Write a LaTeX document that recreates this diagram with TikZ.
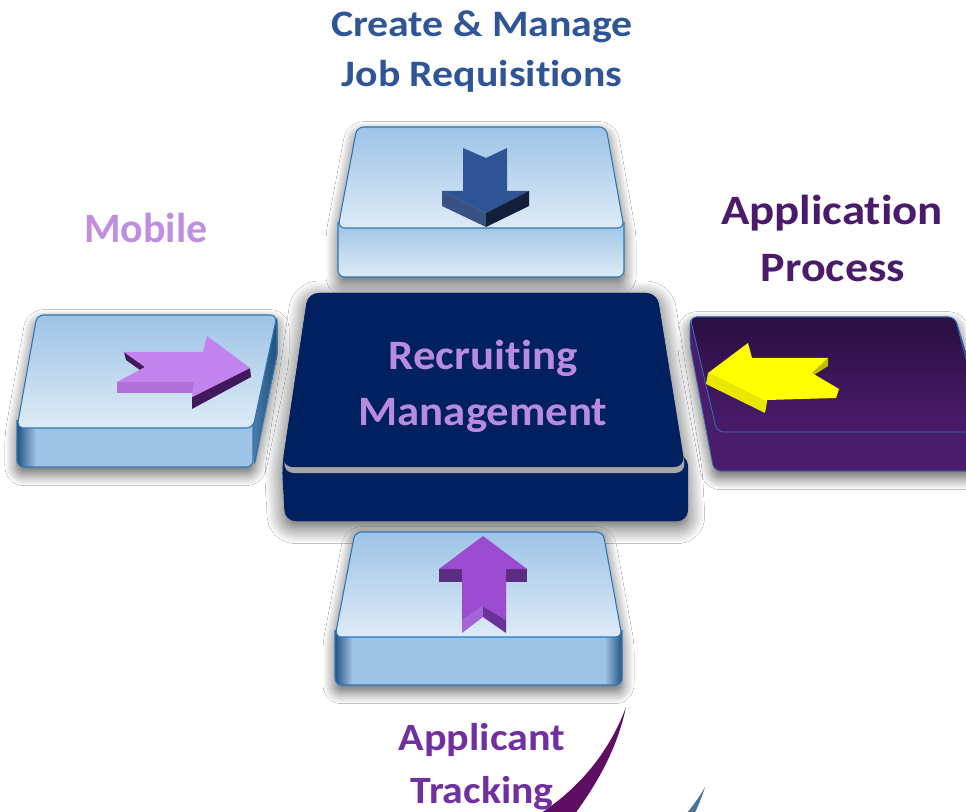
\documentclass[tikz,border=0pt]{standalone}
\usepackage{fontspec}
\setmainfont{Carlito}[Ligatures={NoCommon}]
\usetikzlibrary{shadows.blur}
\definecolor{titleblue}{HTML}{2F5597}
\definecolor{lightpurple}{HTML}{BF8EE1}
\definecolor{darkpurple}{HTML}{4A1B6B}
\definecolor{trackpurple}{HTML}{7030A0}
\definecolor{recruittext}{HTML}{B98BDF}
\definecolor{boxtop}{HTML}{9DC3E6}
\definecolor{boxlight}{HTML}{DEEBF7}
\definecolor{boxline}{HTML}{2E75B6}
\definecolor{boxedge}{HTML}{24527F}
\definecolor{sidedark}{HTML}{1F4E79}
\definecolor{sidemid}{HTML}{4A7CAA}
\definecolor{navy}{HTML}{002060}
\definecolor{rimgrey}{HTML}{A6A6A6}
\definecolor{appTop}{HTML}{2A0E42}
\definecolor{appBot}{HTML}{4A1C6C}
\definecolor{arrowblue}{HTML}{2F5597}
\definecolor{arrowblueL}{HTML}{3A5283}
\definecolor{arrowblueD}{HTML}{131E3A}
\definecolor{mobarrow}{HTML}{C383EE}
\definecolor{mobarrowL}{HTML}{B070D8}
\definecolor{mobarrowD}{HTML}{43195E}
\definecolor{yel}{HTML}{FFFF00}
\definecolor{yelL}{HTML}{E8E800}
\definecolor{yelD}{HTML}{BDBD00}
\definecolor{uparrow}{HTML}{9A4BD0}
\definecolor{uparrowD}{HTML}{5A2D82}
\definecolor{uparrowL}{HTML}{A565D6}
\definecolor{uparrowM}{HTML}{6B3399}
\definecolor{swooshpurple}{HTML}{5E0F63}
\definecolor{swooshblue}{HTML}{4A7396}
\pgfdeclarehorizontalshading{frontedges}{100bp}{color(0bp)=(boxedge); color(25bp)=(boxedge); color(28bp)=(boxtop); color(72bp)=(boxtop); color(75bp)=(boxedge); color(100bp)=(boxedge)}
\pgfdeclarehorizontalshading{frontleft}{100bp}{color(0bp)=(boxedge); color(25bp)=(boxedge); color(29bp)=(boxtop); color(100bp)=(boxtop)}
\tikzset{
  lbl/.style={font=\bfseries\fontsize{#1}{#1}\selectfont, anchor=base, inner sep=0pt},
  boxoutline/.style={draw=boxline, line width=0.8pt},
  halo/.style={blur shadow={shadow blur radius=#1, shadow xshift=0pt, shadow yshift=-5pt, shadow opacity=65, shadow blur steps=14}},
  topface/.style={boxoutline, top color=boxtop, bottom color=boxlight},
  rc/.style={rounded corners=5pt},
}
\begin{document}
\begin{tikzpicture}[x=0.75pt,y=-0.75pt,line join=round]
\useasboundingbox (0,0) rectangle (966,812);
\clip (0,0) rectangle (966,812);
\fill[white] (0,0) rectangle (966,812);

% ---------- Top box: Create & Manage ----------
\path[rc, fill=boxtop, halo=9pt] (357,127) -- (606,127) -- (624,228) -- (624,277) -- (338,277) -- (338,228) -- cycle;
\draw[rc, boxoutline, top color=boxtop, bottom color=boxlight] (338,222) -- (338,277) -- (624,277) -- (624,222);
\draw[rc, topface] (357,127) -- (606,127) -- (624,228) -- (338,228) -- cycle;
% down arrow
\fill[arrowblue] (463,148) -- (486,158) -- (507,148) -- (507,191) -- (529,191) -- (486,213) -- (442,191) -- (463,191) -- cycle;
\fill[arrowblueL] (442,191) -- (486,213) -- (486,227) -- (442,206) -- cycle;
\fill[arrowblueD] (529,191) -- (486,213) -- (486,227) -- (529,206) -- cycle;

% ---------- Left box: Mobile ----------
\path[rc, fill=boxtop, halo=9pt] (37,315) -- (277,315) -- (277,354) -- (253,467) -- (17,467) -- (17,428) -- cycle;
\fill[left color=sidemid, right color=sidedark] (277,318) -- (277,356) -- (254,464) -- (253,428) -- cycle;
\draw[rc, boxoutline, shading=frontleft] (17,420) -- (17,467) -- (253,467) -- (253,420);
\draw[boxoutline] (277,322) -- (277,354) -- (255,462);
\draw[rc, topface] (37,315) -- (277,315) -- (253,428) -- (17,428) -- cycle;
% mobile arrow
\fill[mobarrowD] (124,352) -- (126,360) -- (140,370) -- (145,367) -- cycle;
\fill[mobarrowL] (117,382) -- (117,393) -- (194,393) -- (194,382) -- cycle;
\fill[mobarrowD] (192,397) -- (192,409) -- (251,377) -- (250,368) -- cycle;
\fill[mobarrow] (124,352) -- (145,367) -- (117,382) -- (194,382) -- (192,397) -- (250,368) -- (207,336) -- (203,352) -- cycle;

% ---------- Right box: Application Process ----------
\path[rc, fill=appBot, halo=9pt] (690,317) -- (955,317) -- (990,432) -- (990,471) -- (714,471) -- (690,345) -- cycle;
\draw[rc, draw=boxline, line width=0.5pt, fill=appBot] (690,317) -- (955,317) -- (990,432) -- (990,471) -- (714,471) -- (690,345) -- cycle;
\draw[rc, draw=boxline, line width=0.6pt, top color=appTop, bottom color=appBot] (690,317) -- (955,317) -- (985,432) -- (717,432) -- cycle;
% yellow arrow
\fill[yelD] (828,358) -- (828,366) -- (814,375) -- (812,373) -- cycle;
\fill[yelL] (708,373) -- (767,402) -- (765,413) -- (706,384) -- cycle;
\fill[yel] (708,373) -- (748,343) -- (752,358) -- (828,358) -- (812,373) -- (839,389) -- (836,398) -- (767,400) -- (767,402) -- cycle;

% ---------- Center box: Recruiting Management ----------
\path[rounded corners=8pt, fill=navy, blur shadow={shadow blur radius=13pt, shadow xshift=0pt, shadow yshift=-4pt, shadow opacity=70, shadow blur steps=14}] (308,293) -- (657,293) -- (685,467) -- (688,521) -- (285,521) -- (282,467) -- cycle;
\fill[rounded corners=8pt, navy] (285,455) rectangle (688,521);
\fill[rounded corners=8pt, rimgrey] (308,299) -- (657,299) -- (686,473) -- (283,473) -- cycle;
\fill[rounded corners=8pt, navy] (308,293) -- (657,293) -- (685,467) -- (282,467) -- cycle;

% ---------- Bottom box: Applicant Tracking ----------
\path[rc, fill=boxtop, halo=9pt] (355,532) -- (603,532) -- (622,637) -- (622,685) -- (335,685) -- (335,637) -- cycle;
\draw[rc, boxoutline, shading=frontedges] (335,630) -- (335,685) -- (622,685) -- (622,630);
\draw[rc, topface] (355,532) -- (603,532) -- (622,637) -- (335,637) -- cycle;
% up arrow
\fill[uparrowD] (439,569) -- (462,569) -- (462,582) -- (439,582) -- cycle;
\fill[uparrowD] (506,569) -- (527,569) -- (527,582) -- (506,582) -- cycle;
\fill[uparrowL] (462,620) -- (483,606) -- (483,617) -- (462,633) -- cycle;
\fill[uparrowM] (483,606) -- (506,620) -- (506,633) -- (483,617) -- cycle;
\fill[uparrow] (483,536) -- (527,569) -- (506,569) -- (506,620) -- (483,606) -- (462,620) -- (462,569) -- (439,569) -- cycle;

% ---------- swooshes ----------
\fill[swooshpurple] (626,707) .. controls (612,745) and (585,785) .. (538,815) -- (574,815) .. controls (600,780) and (618,745) .. (626,707) -- cycle;
\fill[swooshblue] (705,787) .. controls (700,796) and (693,806) .. (685,815) -- (694,815) .. controls (698,806) and (702,797) .. (705,787) -- cycle;

% ---------- labels ----------
\node[lbl=28, text=titleblue, xscale=1.12] (t1) at (482,37) {Create \& Manage};
\node[lbl=28, text=titleblue, xscale=1.12] (t2) at (482,87) {Job Requisitions};
\node[lbl=31.4, text=lightpurple] (mob) at (146,243) {Mobile};
\node[lbl=31.4, text=darkpurple, xscale=1.12] (ap1) at (832,225) {Application};
\node[lbl=31.4, text=darkpurple, xscale=1.1] (ap2) at (833,282) {Process};
\node[lbl=31.4, text=recruittext, xscale=1.07] (rm1) at (483,370) {Recruiting};
\node[lbl=31.4, text=recruittext, xscale=1.07] (rm2) at (483,425) {Management};
\node[lbl=29, text=trackpurple, xscale=1.09] (at1) at (482,750) {Applicant};
\node[lbl=29, text=trackpurple, xscale=1.08] (at2) at (482,803) {Tracking};
\end{tikzpicture}
\end{document}
